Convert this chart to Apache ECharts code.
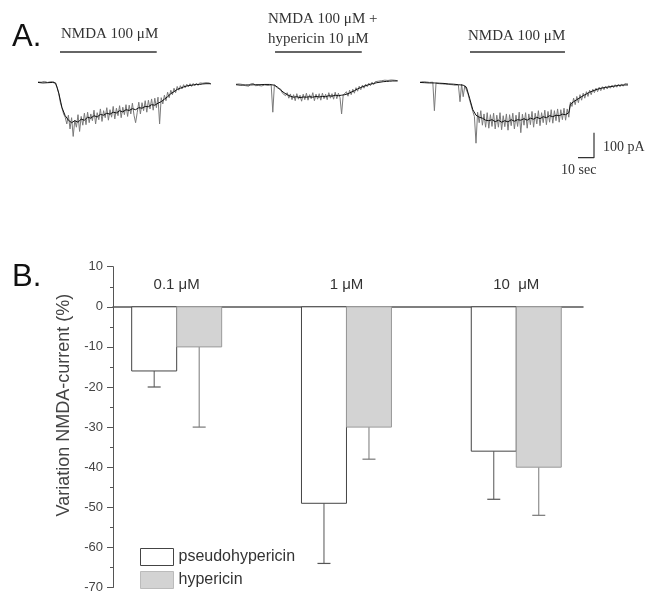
<!DOCTYPE html>
<html><head><meta charset="utf-8">
<script src="https://cdn.jsdelivr.net/npm/echarts@6/dist/echarts.min.js"></script>
<style>html,body{margin:0;padding:0;background:#fff}#c{width:647px;height:594px}</style>
</head><body><div id="c"></div>
<script>
// ---------- Panel A data (current traces, pA; one sample per second) ----------
const trace1 = [3,-4,2,-3,5,-2,1,-5,4,-1,
  3,-6,-18,-45,-80,-102,-125,-138,-165,-130,
  -185,-140,-215,-150,-178,-128,-195,-135,-170,-122,
  -168,-118,-160,-125,-152,-110,-165,-120,-148,-105,
  -155,-112,-140,-100,-150,-108,-138,-95,-145,-102,
  -132,-92,-140,-98,-128,-88,-135,-90,-125,-82,
  -130,-160,-120,-78,-125,-80,-112,-72,-118,-70,
  -105,-65,-110,-62,-100,-58,-165,-60,-85,-50,
  -72,-38,-60,-30,-48,-22,-40,-15,-30,-12,
  -25,-8,-20,-6,-16,-4,-15,-3,-12,-2,
  -11,-1,-9,-2,-8,0,-7,-1,-6];
const trace1Core = [[0,1],[3,-1],[6,0],[9,1],[11,-1],[13,-42],[15,-100],[17,-132],[19,-150],[21,-160],[23,-152],[25,-158],[27,-146],[29,-150],[31,-138],[33,-142],[35,-132],[37,-137],[39,-127],[41,-130],[43,-122],[45,-126],[47,-118],[49,-121],[51,-112],[53,-117],[55,-108],[57,-111],[59,-104],[61,-108],[63,-100],[65,-102],[67,-95],[69,-96],[71,-88],[73,-90],[75,-82],[77,-76],[79,-66],[81,-56],[83,-44],[85,-36],[87,-27],[89,-22],[91,-17],[93,-13],[95,-11],[97,-9],[99,-7],[101,-7],[103,-5],[105,-4],[108,-4]];

const trace2 = [-6,-12,-5,-13,-7,-4,-12,-6,-14,-5,
  -10,-3,-12,-6,-11,-4,-13,-5,-9,-2,
  -11,-4,-9,-118,-8,-14,-22,-30,-26,-42,
  -35,-52,-40,-62,-45,-68,-48,-72,-44,-66,
  -50,-74,-46,-68,-42,-70,-48,-64,-40,-72,
  -46,-66,-44,-70,-42,-64,-46,-68,-40,-62,
  -44,-66,-38,-64,-42,-60,-125,-50,-58,-36,
  -54,-30,-48,-26,-42,-20,-34,-14,-28,-10,
  -22,-6,-16,-2,-12,2,-8,4,-4,6,
  -2,8,0,10,2,9,3,11,4,10,
  5,8];
const trace2Core = [[0,-8],[3,-10],[6,-9],[9,-9],[12,-8],[15,-8],[18,-7],[21,-7],[24,-10],[26,-18],[28,-30],[30,-40],[32,-48],[34,-54],[36,-58],[38,-56],[40,-60],[42,-57],[44,-58],[46,-56],[48,-58],[50,-55],[52,-57],[54,-55],[56,-56],[58,-52],[60,-54],[62,-50],[64,-52],[66,-50],[68,-48],[70,-44],[72,-38],[74,-32],[76,-25],[78,-19],[80,-14],[82,-10],[84,-6],[86,-3],[88,0],[90,2],[92,4],[94,5],[96,6],[98,7],[101,7]];

const trace3 = [2,-3,4,-2,3,-4,1,-3,2,-112,
  -2,1,-4,0,-5,-1,-6,-2,-7,-3,
  -8,-4,-10,-5,-9,-76,-6,-56,-12,-20,
  -45,-70,-92,-115,-135,-242,-118,-160,-112,-170,
  -125,-178,-120,-182,-128,-175,-122,-185,-130,-178,
  -120,-188,-132,-176,-125,-190,-128,-172,-122,-185,
  -130,-175,-118,-200,-126,-170,-120,-182,-125,-168,
  -115,-178,-122,-165,-112,-172,-120,-160,-110,-168,
  -115,-158,-108,-162,-112,-152,-105,-158,-108,-148,
  -102,-150,-105,-138,-78,-95,-62,-88,-55,-80,
  -48,-70,-42,-62,-36,-55,-30,-48,-26,-40,
  -22,-36,-18,-32,-16,-28,-14,-25,-12,-22,
  -10,-20,-8,-18,-6,-16,-5,-14,-4,-12,
  -5];
const trace3Core = [[0,1],[3,0],[6,-1],[9,-1],[12,-2],[15,-3],[18,-5],[21,-6],[24,-8],[27,-10],[29,-18],[31,-62],[33,-108],[35,-130],[37,-138],[39,-142],[41,-150],[43,-152],[45,-148],[47,-156],[49,-150],[51,-158],[53,-152],[55,-157],[57,-148],[59,-154],[61,-148],[63,-150],[65,-144],[67,-150],[69,-142],[71,-146],[73,-138],[75,-144],[77,-136],[79,-140],[81,-132],[83,-136],[85,-130],[87,-132],[89,-126],[91,-128],[93,-120],[94,-86],[96,-76],[98,-68],[100,-60],[102,-52],[104,-45],[106,-38],[108,-33],[110,-28],[112,-24],[114,-21],[116,-19],[118,-17],[120,-15],[122,-13],[124,-11],[126,-10],[128,-9],[130,-9]];

// NMDA application periods (s from start of each sweep)
const drugStart = [13.75, 24.4, 31.25];
const drugEnd = [74.2, 78.6, 90.6];
const drugLabels = ['NMDA 100 μM', 'NMDA 100 μM +\nhypericin 10 μM', 'NMDA 100 μM'];
const sweepDuration = [108.75, 101.25, 130];
const scaleSec = 10, scalePA = 100;

// ---------- Panel B data ----------
const concentrations = ['0.1 μM', '1 μM', '10  μM'];
const pseudoMean = [-16, -49, -36];
const pseudoErr = [-20, -64, -48];
const hyperMean = [-10, -30, -40];
const hyperErr = [-30, -38, -52];
const yTicks = {min: -70, max: 10, step: 10};

// ---------- build ----------
const chart = echarts.init(document.getElementById('c'), null, {renderer: 'canvas'});
const SERIF = 'Liberation Serif', SANS = 'Liberation Sans';
const traces = [trace1, trace2, trace3];
const cores = [trace1Core, trace2Core, trace3Core];
const gridsA = [{left: 38, width: 174}, {left: 236, width: 162}, {left: 420, width: 208}];
const DRUG_ROW = 123;

const grid = gridsA.map(g => ({left: g.left, width: g.width, top: 32.7, height: 150}));
grid.push({left: 113, width: 470, top: 266.7, height: 323});

const xAxis = sweepDuration.map((d, i) => ({gridIndex: i, type: 'value', min: 0, max: d, show: false}));
const yAxis = [0, 1, 2].map(i => ({gridIndex: i, type: 'value', min: -400, max: 200, show: false}));

xAxis.push({
  gridIndex: 3, type: 'value', min: 0.625, max: 3.393,
  axisLine: {show: true, onZero: true, lineStyle: {color: '#555', width: 1.5}},
  axisTick: {show: false}, axisLabel: {show: false}, splitLine: {show: false}
});
yAxis.push({
  gridIndex: 3, type: 'value', min: yTicks.min, max: yTicks.max, interval: yTicks.step,
  axisLine: {show: true, onZero: false, lineStyle: {color: '#555', width: 1}},
  axisTick: {show: true, length: 6, lineStyle: {color: '#555'}},
  minorTick: {show: true, splitNumber: 2, length: 3, lineStyle: {color: '#555'}},
  splitLine: {show: false},
  axisLabel: {fontFamily: SANS, fontSize: 13, color: '#444', margin: 10},
  name: 'Variation NMDA-current (%)', nameLocation: 'middle', nameGap: 36,
  nameTextStyle: {fontFamily: SANS, fontSize: 18, color: '#444', padding: [0, 0, 0, 44]}
});

const series = [];
traces.forEach((tr, i) => {
  series.push({
    type: 'line', xAxisIndex: i, yAxisIndex: i, showSymbol: false, silent: true,
    data: tr.map((v, t) => [t, v]),
    lineStyle: {color: '#7a7a7a', width: 1}, clip: false
  });
  series.push({
    type: 'line', xAxisIndex: i, yAxisIndex: i, showSymbol: false, silent: true,
    data: cores[i], lineStyle: {color: '#111', width: 1}, clip: false
  });
  series.push({
    type: 'line', xAxisIndex: i, yAxisIndex: i, showSymbol: false, silent: true,
    data: [[drugStart[i], DRUG_ROW], [drugEnd[i], DRUG_ROW]],
    lineStyle: {color: '#333', width: 1.6}, clip: false
  });
});
// scale bar in sweep 3
series.push({
  type: 'line', xAxisIndex: 2, yAxisIndex: 2, showSymbol: false, silent: true, clip: false,
  data: [[108.75 - scaleSec, -300], [108.75, -300], [108.75, -300 + scalePA]],
  lineStyle: {color: '#333', width: 1.2}
});

const BAR_HALF = 0.265;
function barRenderer(side, fill, stroke, errColor, withLabel) {
  return function (params, api) {
    const c = api.value(0), v = api.value(1), e = api.value(2);
    const x0 = side < 0 ? c - BAR_HALF : c;
    const x1 = side < 0 ? c : c + BAR_HALF;
    const pTop = api.coord([x0, 0]);
    const pBot = api.coord([x1, v]);
    const xm = (pTop[0] + pBot[0]) / 2;
    const pe = api.coord([(x0 + x1) / 2, e]);
    const children = [
      {type: 'line', shape: {x1: xm, y1: pBot[1], x2: xm, y2: pe[1]}, style: {stroke: errColor, lineWidth: 1}},
      {type: 'line', shape: {x1: xm - 6.5, y1: pe[1], x2: xm + 6.5, y2: pe[1]}, style: {stroke: errColor, lineWidth: 1.2}},
      {type: 'rect', shape: {x: pTop[0], y: pTop[1], width: pBot[0] - pTop[0], height: pBot[1] - pTop[1]},
        style: {fill: fill, stroke: stroke, lineWidth: 1}}
    ];
    if (withLabel) {
      const pc = api.coord([c, 0]);
      children.push({type: 'text', x: pc[0], y: pc[1] - 21.5,
        style: {text: concentrations[params.dataIndex], fill: '#333', font: '15px "Liberation Sans"', align: 'center', verticalAlign: 'middle'}});
    }
    return {type: 'group', children};
  };
}
series.push({
  type: 'custom', name: 'pseudohypericin', xAxisIndex: 3, yAxisIndex: 3, clip: false,
  itemStyle: {color: '#ffffff', borderColor: '#444', borderWidth: 1},
  encode: {x: 0, y: 1},
  data: pseudoMean.map((v, i) => [i + 1, v, pseudoErr[i]]),
  renderItem: barRenderer(-1, '#ffffff', '#444', '#555', true)
});
series.push({
  type: 'custom', name: 'hypericin', xAxisIndex: 3, yAxisIndex: 3, clip: false,
  itemStyle: {color: '#d3d3d3', borderColor: '#999', borderWidth: 1},
  encode: {x: 0, y: 1},
  data: hyperMean.map((v, i) => [i + 1, v, hyperErr[i]]),
  renderItem: barRenderer(1, '#d3d3d3', '#999', '#777', false)
});

const serifStyle = {fontFamily: SERIF, fontSize: 15, fontWeight: 'normal', color: '#333'};
const title = [
  {text: 'A.', left: 12, top: 22, padding: 0, textStyle: {fontFamily: SANS, fontSize: 31, fontWeight: 'normal', color: '#111'}},
  {text: 'B.', left: 12, top: 262, padding: 0, textStyle: {fontFamily: SANS, fontSize: 31, fontWeight: 'normal', color: '#111'}},
  {text: drugLabels[0], left: 61, top: 27, padding: 0, textStyle: serifStyle},
  {text: drugLabels[1], left: 268, top: 9, padding: 0, textStyle: Object.assign({}, serifStyle, {lineHeight: 20})},
  {text: drugLabels[2], left: 468, top: 29, padding: 0, textStyle: serifStyle},
  {text: scalePA + ' pA', left: 603, top: 140, padding: 0, textStyle: Object.assign({}, serifStyle, {fontSize: 14})},
  {text: scaleSec + ' sec', left: 561, top: 163, padding: 0, textStyle: Object.assign({}, serifStyle, {fontSize: 14})}
];

chart.setOption({
  animation: false,
  backgroundColor: '#fff',
  title, grid, xAxis, yAxis, series,
  legend: {
    left: 140, top: 548, orient: 'vertical', padding: 0,
    itemWidth: 33, itemHeight: 17, itemGap: 5, icon: 'rect', selectedMode: false,
    textStyle: {fontFamily: SANS, fontSize: 16, color: '#333'},
    data: [
      {name: 'pseudohypericin', itemStyle: {color: '#ffffff', borderColor: '#444', borderWidth: 1}},
      {name: 'hypericin', itemStyle: {color: '#d3d3d3', borderColor: '#bbb', borderWidth: 1}}
    ]
  }
});
</script></body></html>
